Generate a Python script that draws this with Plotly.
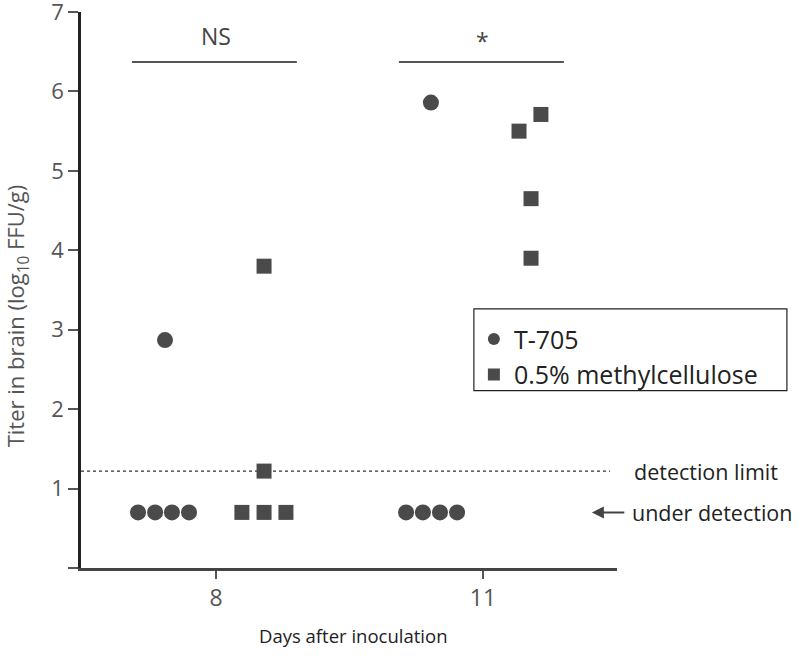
import plotly.graph_objects as go

# ---- data ----
days = ["8", "11"]
day_pos = [0, 1]

t705_day = [0, 0, 0, 0, 0, 1, 1, 1, 1, 1]
t705_vals = [2.87, 0.7, 0.7, 0.7, 0.7, 5.86, 0.7, 0.7, 0.7, 0.7]
t705_jit = [-0.191, -0.292, -0.228, -0.165, -0.101, -0.195, -0.288, -0.225, -0.161, -0.097]

mc_day = [0, 0, 0, 0, 0, 1, 1, 1, 1]
mc_vals = [3.80, 1.22, 0.7, 0.7, 0.7, 5.71, 5.50, 4.65, 3.90]
mc_jit = [0.180, 0.180, 0.097, 0.180, 0.262, 0.217, 0.135, 0.180, 0.180]

detection_limit = 1.22
under_detection = 0.7
sig_labels = ["NS", "*"]

y_ticks = [0, 1, 2, 3, 4, 5, 6, 7]
y_ticktext = [" ", "1", "2", "3", "4", "5", "6", "7"]

FONT = "Open Sans"
MCOL = "#4a4a4a"

fig = go.Figure()
fig.add_trace(go.Scatter(
    x=[day_pos[d] + j for d, j in zip(t705_day, t705_jit)], y=t705_vals,
    mode="markers", name="T-705",
    marker=dict(symbol="circle", size=16, color=MCOL, line=dict(width=0)),
))
fig.add_trace(go.Scatter(
    x=[day_pos[d] + j for d, j in zip(mc_day, mc_jit)], y=mc_vals,
    mode="markers", name="0.5% methylcellulose",
    marker=dict(symbol="square", size=15, color=MCOL, line=dict(width=0)),
))

xr = [-0.5056, 1.502]

# detection limit line
fig.add_shape(type="line", xref="x", yref="y", x0=xr[0], x1=1.476,
              y0=detection_limit, y1=detection_limit,
              line=dict(color="#333333", width=1.3, dash="dot"), layer="below")

# significance bars
for p, lab in zip(day_pos, sig_labels):
    fig.add_shape(type="line", xref="x", yref="y", x0=p - 0.315, x1=p + 0.303,
                  y0=6.37, y1=6.37, line=dict(color="#555555", width=2))
    fig.add_annotation(x=p, y=6.70 if lab == "NS" else 6.64, xref="x", yref="y",
                       text=lab, showarrow=False,
                       font=dict(family=FONT, size=23, color="#444444"))

fig.add_annotation(x=1.028, xref="paper", y=detection_limit, yref="y",
                   text="detection limit", showarrow=False, xanchor="left",
                   font=dict(family=FONT, size=21.5, color="#222222"))
fig.add_annotation(x=1.024, xref="paper", y=under_detection, yref="y",
                   text="under detection", showarrow=False, xanchor="left",
                   font=dict(family=FONT, size=21.5, color="#222222"))
fig.add_annotation(x=1.408, y=under_detection, xref="x", yref="y",
                   ax=1.535, ay=under_detection, axref="x", ayref="y",
                   text="", showarrow=True, arrowhead=2, arrowsize=1.2,
                   arrowwidth=2, arrowcolor="#444444")

# axis titles
fig.add_annotation(x=-0.119, y=0.453, xref="paper", yref="paper",
                   xanchor="center", yanchor="middle",
                   text="Titer in brain (log<sub>10</sub> FFU/g)", textangle=-90,
                   showarrow=False, font=dict(family=FONT, size=22, color="#555555"))
fig.add_annotation(x=0.509, y=-0.122, xref="paper", yref="paper",
                   xanchor="center", yanchor="middle",
                   text="Days after inoculation",
                   showarrow=False, font=dict(family=FONT, size=18.5, color="#222222"))

# legend box
fig.add_shape(type="rect", xref="paper", yref="paper",
              x0=0.733, x1=1.317, y0=0.319, y1=0.466,
              line=dict(color="#222222", width=1.2), fillcolor="white", layer="below")

fig.update_layout(
    width=799, height=657,
    margin=dict(l=81, r=182, t=12, b=89, autoexpand=False),
    plot_bgcolor="white", paper_bgcolor="white",
    font=dict(family=FONT, color="#555555"),
    showlegend=True,
    legend=dict(x=0.733, y=0.38, xanchor="left", yanchor="middle",
                bgcolor="rgba(0,0,0,0)", borderwidth=0,
                font=dict(family=FONT, size=25, color="#222222"),
                itemsizing="constant"),
    xaxis=dict(range=xr, tickmode="array", tickvals=day_pos, ticktext=days,
               showline=True, linecolor="#444444", linewidth=2.5,
               ticks="outside", ticklen=8, tickwidth=2, tickcolor="#555555",
               showgrid=False, zeroline=False, automargin=False,
               tickfont=dict(family=FONT, size=23, color="#555555")),
    yaxis=dict(range=[0, 7], tickmode="array", tickvals=y_ticks, ticktext=y_ticktext,
               showline=True, linecolor="#222222", linewidth=2.5,
               ticks="outside", ticklen=10, tickwidth=2, tickcolor="#555555",
               showgrid=False, zeroline=False, automargin=False,
               ticklabeloverflow="allow",
               tickfont=dict(family=FONT, size=22, color="#555555")),
)

fig.write_html("out.html", config={"displayModeBar": False},
               post_script="document.body.style.margin='0';document.body.style.overflow='hidden';")
